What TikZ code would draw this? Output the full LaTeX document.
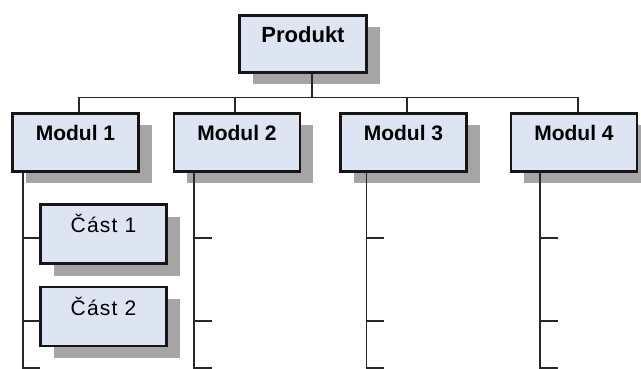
\documentclass[tikz,border=0pt]{standalone}
\usepackage{fontspec}
\setmainfont{Liberation Sans}
\usetikzlibrary{shadows}
\definecolor{boxfill}{RGB}{221,229,242}
\definecolor{edge}{RGB}{22,22,22}
\definecolor{wire}{RGB}{40,40,40}
\definecolor{shade}{RGB}{165,165,165}
\tikzset{
  wbox/.style={draw=edge, line width=2.8pt, fill=boxfill,
    minimum width=126pt, minimum height=58pt, inner sep=0pt,
    text height=15pt, text depth=18pt,
    drop shadow={shadow xshift=13pt, shadow yshift=-12pt, fill=shade, opacity=1}},
  pfont/.style={font=\bfseries\fontsize{22pt}{22pt}\selectfont},
  mfont/.style={font=\bfseries\fontsize{21pt}{21pt}\selectfont},
  cfont/.style={font=\fontsize{21pt}{21pt}\selectfont\addfontfeature{LetterSpace=6}},
  wire/.style={draw=wire, line width=1.5pt}
}
\begin{document}
\begin{tikzpicture}[x=1pt,y=-1pt]
\clip (0,0) rectangle (641,369);
\node[wbox, pfont, minimum width=127pt, minimum height=57pt] (prod) at (303,44) {Produkt};
\node[wbox, mfont] (m1) at (75.5,142.5) {Modul 1};
\node[wbox, mfont] (m2) at (237,142.5) {Modul 2};
\node[wbox, mfont] (m3) at (403.5,142.5) {Modul 3};
\node[wbox, mfont] (m4) at (574,142.5) {Modul 4};
\node[wbox, cfont, minimum height=59pt] (c1) at (103.5,234) {Část 1};
\node[wbox, cfont, minimum height=59pt] (c2) at (103.5,316.5) {Část 2};
% bus
\coordinate (bus) at (0,97.3);
\coordinate (bot) at (0,371);
\coordinate (ps) at ([xshift=9pt]prod.south);
\draw[wire] (ps) -- (ps |- bus) -| ([xshift=3.5pt]m1.north);
\draw[wire] (ps |- bus) -| ([xshift=-2pt]m2.north);
\draw[wire] (ps |- bus) -| ([xshift=3.5pt]m3.north);
\draw[wire] (ps |- bus) -| ([xshift=4pt]m4.north);
% vertical lines
\coordinate (v1) at ([xshift=-52.5pt]m1.south);
\coordinate (v2) at ([xshift=-43pt]m2.south);
\coordinate (v3) at ([xshift=-37pt]m3.south);
\coordinate (v4) at ([xshift=-34pt]m4.south);
\foreach \v in {v1,v2,v3,v4} \draw[wire] (\v) -- (\v |- bot);
% ticks to parts
\coordinate (c1t) at ([yshift=-4pt]c1.west);
\coordinate (c2t) at ([yshift=-4.5pt]c2.west);
\draw[wire] (c1t -| v1) -- (c1t);
\draw[wire] (c2t -| v1) -- (c2t);
% empty ticks
\coordinate (ra) at (0,238);
\coordinate (rb) at (0,321);
\coordinate (rc) at (0,368);
\draw[wire] (v1 |- rc) -- ++(17,0);
\foreach \v in {v2,v3,v4}
  \foreach \r in {ra,rb,rc}
    \draw[wire] (\v |- \r) -- ++(17.5,0);
\end{tikzpicture}
\end{document}
